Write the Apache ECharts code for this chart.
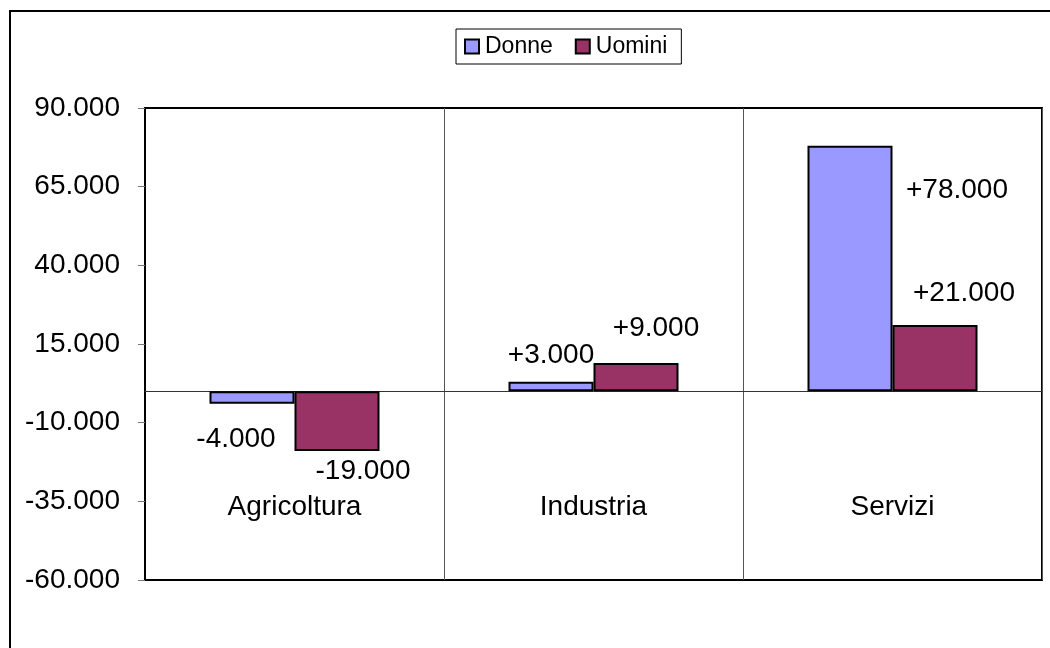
<!DOCTYPE html>
<html>
<head>
<meta charset="utf-8">
<script src="https://cdn.jsdelivr.net/npm/echarts@6/dist/echarts.min.js"></script>
<style>
  html, body { margin: 0; padding: 0; background: #fff; }
  #chart { width: 1050px; height: 648px; }
</style>
</head>
<body>
<div id="chart"></div>
<script>
const categories = ['Agricoltura', 'Industria', 'Servizi'];
const donne = [-4000, 3000, 78000];
const uomini = [-19000, 9000, 21000];
const yMin = -60000;
const yMax = 90000;
const yStep = 25000;

// etichette spostate a mano come nel grafico excel
const donneOffsets = [[-16, 16], [0, -7], [107, 64]];
const uominiOffsets = [[26, 1], [20, -16], [29, -13]];

function fmt(v) {
  const s = Math.abs(v).toString().replace(/\B(?=(\d{3})+(?!\d))/g, '.');
  return (v < 0 ? '-' : '') + s;
}
function fmtSigned(v) {
  return (v > 0 ? '+' : '') + fmt(v);
}

function barData(values, offsets) {
  return values.map(function (v, i) {
    return {
      value: v,
      label: {
        position: v < 0 ? 'bottom' : 'top',
        offset: offsets[i]
      }
    };
  });
}

const font = 'Arial, "Liberation Sans", sans-serif';
const chart = echarts.init(document.getElementById('chart'));

chart.setOption({
  animation: false,
  backgroundColor: '#fff',
  textStyle: { fontFamily: font, color: '#000' },
  graphic: [{
    type: 'rect',
    shape: { x: 10, y: 11, width: 1100, height: 700 },
    style: { fill: 'none', stroke: '#000', lineWidth: 2 },
    z: -1
  }],
  legend: {
    top: 29,
    left: 456,
    data: ['Donne', 'Uomini'],
    icon: 'rect',
    itemWidth: 14,
    itemHeight: 14,
    itemGap: 22,
    padding: [6, 14, 6, 8],
    borderColor: '#000',
    borderWidth: 1,
    itemStyle: { borderColor: '#000', borderWidth: 2 },
    textStyle: { fontFamily: font, fontSize: 23, color: '#000', padding: [0, 0, 0, 1] }
  },
  grid: {
    left: 145,
    right: 8,
    top: 108,
    bottom: 68,
    containLabel: false,
    outerBoundsMode: 'none',
    show: true,
    borderColor: '#000',
    borderWidth: 2
  },
  xAxis: {
    type: 'category',
    data: categories,
    axisLine: { onZero: true, lineStyle: { color: '#333', width: 1 } },
    axisTick: { show: false },
    splitLine: { show: true, lineStyle: { color: '#555', width: 1 } },
    axisLabel: { inside: true, margin: 59, fontFamily: font, fontSize: 28, color: '#000' }
  },
  yAxis: {
    type: 'value',
    min: yMin,
    max: yMax,
    interval: yStep,
    axisLine: { show: true, lineStyle: { color: '#000', width: 2 } },
    axisTick: { show: true, length: 7, lineStyle: { color: '#777' } },
    splitLine: { show: false },
    axisLabel: { margin: 25, fontFamily: font, fontSize: 28, color: '#000', formatter: fmt }
  },
  series: [
    {
      name: 'Donne',
      type: 'bar',
      data: barData(donne, donneOffsets),
      barWidth: 85,
      barGap: '0%',
      itemStyle: { color: '#9999FF', borderColor: '#000', borderWidth: 2 },
      label: {
        show: true,
        fontFamily: font,
        fontSize: 28,
        color: '#000',
        formatter: function (p) { return fmtSigned(p.value); }
      }
    },
    {
      name: 'Uomini',
      type: 'bar',
      data: barData(uomini, uominiOffsets),
      barWidth: 85,
      barGap: '0%',
      itemStyle: { color: '#993366', borderColor: '#000', borderWidth: 2 },
      label: {
        show: true,
        fontFamily: font,
        fontSize: 28,
        color: '#000',
        formatter: function (p) { return fmtSigned(p.value); }
      }
    }
  ]
});
</script>
</body>
</html>
